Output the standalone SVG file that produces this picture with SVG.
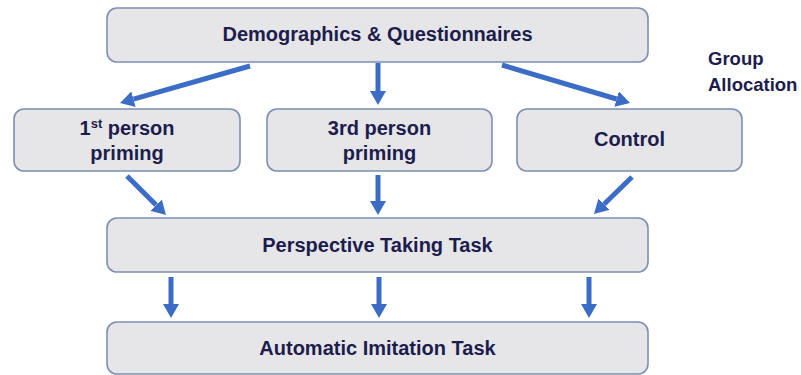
<svg xmlns="http://www.w3.org/2000/svg" width="801" height="375" viewBox="0 0 801 375">
<style>
.box{fill:#e6e6e8;stroke:#7d8fb3;stroke-width:1.6}
.t{font-family:"Liberation Sans",Arial,sans-serif;font-weight:bold;font-size:20px;fill:#1d1d4d;text-anchor:middle}
.lbl{font-family:"Liberation Sans",Arial,sans-serif;font-weight:bold;font-size:18.5px;fill:#1d1d4d}
.c{stroke:#3b6cc6;stroke-width:5;fill:none;marker-end:url(#ah)}
</style>
<defs>
<marker id="ah" viewBox="0 0 14 16" refX="0" refY="8" markerWidth="14" markerHeight="16" markerUnits="userSpaceOnUse" orient="auto">
<path d="M0,0 L14,8 L0,16 z" fill="#3b6cc6"/>
</marker>
</defs>
<rect width="801" height="375" fill="#ffffff"/>
<g id="demographics"><rect class="box" x="107" y="8" width="541" height="54" rx="10"/><text class="t" x="377.5" y="41">Demographics &amp; Questionnaires</text></g>
<g id="first"><rect class="box" x="14" y="109" width="226" height="62" rx="10"/><text class="t" x="127" y="135">1<tspan font-size="13" dy="-7">st</tspan><tspan dy="7"> person</tspan></text><text class="t" x="127" y="160">priming</text></g>
<g id="third"><rect class="box" x="267" y="109" width="225" height="62" rx="10"/><text class="t" x="379.5" y="135">3rd person</text><text class="t" x="379.5" y="160">priming</text></g>
<g id="control"><rect class="box" x="517" y="109" width="225" height="62" rx="10"/><text class="t" x="629.5" y="146">Control</text></g>
<g id="group-allocation"><text class="lbl" x="708" y="65">Group</text><text class="lbl" x="708" y="91">Allocation</text></g>
<g id="perspective"><rect class="box" x="107" y="218" width="541" height="54" rx="10"/><text class="t" x="377.5" y="252">Perspective Taking Task</text></g>
<g id="imitation"><rect class="box" x="107" y="322" width="541" height="52" rx="10"/><text class="t" x="377.5" y="355">Automatic Imitation Task</text></g>
<g id="connectors">
<line class="c" x1="250" y1="66" x2="133.5" y2="99.2"/>
<line class="c" x1="378" y1="63" x2="378" y2="91"/>
<line class="c" x1="502" y1="65" x2="616.6" y2="99"/>
<line class="c" x1="127" y1="176" x2="156.1" y2="205.1"/>
<line class="c" x1="378" y1="175" x2="378" y2="201"/>
<line class="c" x1="632" y1="177" x2="604" y2="204.2"/>
<line class="c" x1="171" y1="277" x2="171" y2="304"/>
<line class="c" x1="379" y1="277" x2="379" y2="304"/>
<line class="c" x1="589" y1="277" x2="589" y2="304"/>
</g>
</svg>
